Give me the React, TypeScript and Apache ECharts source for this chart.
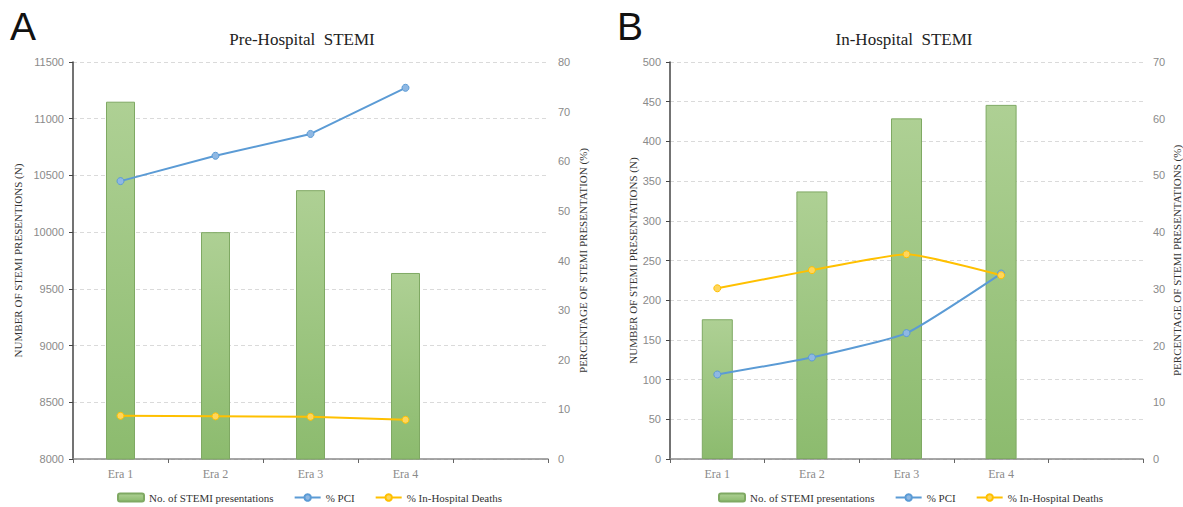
import React, { useEffect, useRef } from "react";
import * as echarts from "echarts";

const categories = ["Era 1", "Era 2", "Era 3", "Era 4", ""];

// Panel A: Pre-Hospital STEMI
const preCount = [11150, 10000, 10370, 9640];
const prePCI = [56.0, 61.1, 65.5, 74.8];
const preDeaths = [8.7, 8.6, 8.5, 7.9];

// Panel B: In-Hospital STEMI
const inCount = [176, 337, 429, 446];
const inPCI = [14.9, 17.9, 22.2, 32.7];
const inDeaths = [30.1, 33.3, 36.1, 32.4];

const legendNames = ["No. of STEMI presentations", "% PCI", "% In-Hospital Deaths"];

const GREEN_BORDER = "#7fa963";
const BLUE = "#5b9bd5";
const BLUE_FILL = "#8fb8e3";
const YELLOW = "#ffc000";
const YELLOW_FILL = "#ffd65c";

const serif = "'Liberation Serif', 'DejaVu Serif', serif";
const sans = "'Liberation Sans', 'DejaVu Sans', sans-serif";

function barColor() {
  return new echarts.graphic.LinearGradient(0, 0, 0, 1, [
    { offset: 0, color: "#aed094" },
    { offset: 1, color: "#8cbb6e" },
  ]);
}

function xAxisFor(gridIndex: number) {
  return {
    type: "category",
    gridIndex,
    data: categories,
    boundaryGap: true,
    axisLine: { show: true, lineStyle: { color: "#8a8a8a", width: 1.5 } },
    axisTick: { show: true, alignWithLabel: false, length: 4, lineStyle: { color: "#666" } },
    axisLabel: { color: "#8a8a8a", fontFamily: serif, fontSize: 12, margin: 9 },
    splitLine: { show: false },
  };
}

function leftYAxis(gridIndex: number, min: number, max: number, interval: number, name: string, nameGap: number) {
  return {
    type: "value",
    gridIndex,
    min,
    max,
    interval,
    position: "left",
    name,
    nameLocation: "middle",
    nameGap,
    nameRotate: 90,
    nameTextStyle: { fontFamily: serif, fontSize: 11, color: "#333" },
    axisLine: { show: true, lineStyle: { color: "#444", width: 1.5 } },
    axisTick: { show: true, length: 4, lineStyle: { color: "#444" } },
    axisLabel: { color: "#8a8a8a", fontFamily: sans, fontSize: 11, margin: 9, formatter: (v: number) => String(v) },
    splitLine: { show: true, lineStyle: { color: "#dadada", type: [4, 3], width: 1 } },
  };
}

function rightYAxis(gridIndex: number, min: number, max: number, interval: number, name: string, nameGap: number) {
  return {
    type: "value",
    gridIndex,
    min,
    max,
    interval,
    position: "right",
    name,
    nameLocation: "middle",
    nameGap,
    nameRotate: 90,
    nameTextStyle: { fontFamily: serif, fontSize: 11, color: "#333" },
    axisLine: { show: false },
    axisTick: { show: false },
    axisLabel: { color: "#8a8a8a", fontFamily: sans, fontSize: 11, margin: 10, formatter: (v: number) => String(v) },
    splitLine: { show: false },
  };
}

function lineSeries(name: string, data: number[], color: string, fill: string, xi: number, yi: number, smooth: number | boolean) {
  return {
    name,
    type: "line",
    xAxisIndex: xi,
    yAxisIndex: yi,
    data,
    smooth,
    symbol: "circle",
    symbolSize: 7,
    lineStyle: { color, width: 2 },
    itemStyle: { color: fill, borderColor: color, borderWidth: 1 },
    z: 3,
  };
}

function barSeries(data: number[], xi: number, yi: number, width: number) {
  return {
    name: "No. of STEMI presentations",
    type: "bar",
    xAxisIndex: xi,
    yAxisIndex: yi,
    data,
    barWidth: width,
    itemStyle: { color: barColor(), borderColor: GREEN_BORDER, borderWidth: 1 },
    z: 2,
  };
}

function legendAt(left: number) {
  return {
    data: legendNames,
    left,
    top: 487,
    itemWidth: 26,
    itemHeight: 8,
    itemGap: 20,
    textStyle: { fontFamily: serif, fontSize: 11, color: "#333" },
    selectedMode: false,
  };
}

export default function App() {
  const ref = useRef<HTMLDivElement>(null);

  useEffect(() => {
    if (!ref.current) return;
    const chart = echarts.init(ref.current, undefined, { renderer: "svg" });
    chart.setOption({
      animation: false,
      backgroundColor: "#ffffff",
      graphic: [
        { type: "text", left: 10, top: 7, style: { text: "A", fontSize: 39, fontFamily: sans, fill: "#111" } },
        { type: "text", left: 617, top: 7, style: { text: "B", fontSize: 39, fontFamily: sans, fill: "#111" } },
        {
          type: "text",
          x: 302,
          y: 39,
          style: { text: "Pre-Hospital  STEMI", fontSize: 17, fontFamily: serif, fill: "#222", align: "center", verticalAlign: "middle" },
        },
        {
          type: "text",
          x: 904,
          y: 39,
          style: { text: "In-Hospital  STEMI", fontSize: 17, fontFamily: serif, fill: "#222", align: "center", verticalAlign: "middle" },
        },
      ],
      legend: [legendAt(112), legendAt(713)],
      grid: [
        { left: 73, right: 635, top: 62, bottom: 48 },
        { left: 670, right: 40, top: 62, bottom: 48 },
      ],
      xAxis: [xAxisFor(0), xAxisFor(1)],
      yAxis: [
        leftYAxis(0, 8000, 11500, 500, "NUMBER OF STEMI PRESENTIONS (N)", 50),
        rightYAxis(0, 0, 80, 10, "PERCENTAGE OF STEMI PRESENTATION (%)", 29),
        leftYAxis(1, 0, 500, 50, "NUMBER OF STEMI PRESENTATIONS (N)", 29),
        rightYAxis(1, 0, 70, 10, "PERCENTAGE OF STEMI PRESENTATIONS (%)", 28),
      ],
      series: [
        barSeries(preCount, 0, 0, 29),
        lineSeries("% PCI", prePCI, BLUE, BLUE_FILL, 0, 1, false),
        lineSeries("% In-Hospital Deaths", preDeaths, YELLOW, YELLOW_FILL, 0, 1, false),
        barSeries(inCount, 1, 2, 31),
        lineSeries("% PCI", inPCI, BLUE, BLUE_FILL, 1, 3, 0.15),
        lineSeries("% In-Hospital Deaths", inDeaths, YELLOW, YELLOW_FILL, 1, 3, 0.15),
      ],
    });
    return () => chart.dispose();
  }, []);

  return (
    <div
      ref={ref}
      style={{ position: "absolute", left: 0, top: 0, width: 1183, height: 507, background: "#fff" }}
    />
  );
}
